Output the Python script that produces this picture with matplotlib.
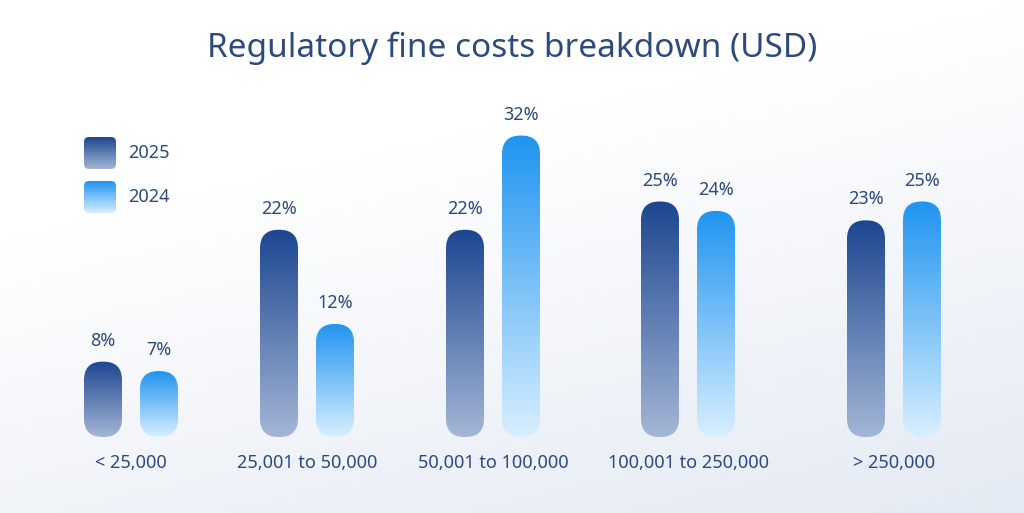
import numpy as np
import matplotlib
matplotlib.use("Agg")
import matplotlib.pyplot as plt
from matplotlib.patches import FancyBboxPatch
from matplotlib.colors import LinearSegmentedColormap

categories = ["< 25,000", "25,001 to 50,000", "50,001 to 100,000", "100,001 to 250,000", "> 250,000"]
v2025 = [8, 22, 22, 25, 23]
v2024 = [7, 12, 32, 24, 25]
series = ["2025", "2024"]

W, H = 1024, 513
fig = plt.figure(figsize=(W/100, H/100), dpi=100)
ax = fig.add_axes([0, 0, 1, 1])
ax.set_xlim(0, W); ax.set_ylim(H, 0); ax.axis("off")

# background gradient
yy, xx = np.mgrid[0:1:100j, 0:1:200j]
t = np.clip(0.75*yy + 0.35*xx - 0.35, 0, 1)
c0 = np.array([1, 1, 1]); c1 = np.array([0.86, 0.89, 0.94])
bg = c0[None, None, :]*(1-t[..., None]) + c1[None, None, :]*t[..., None]
ax.imshow(bg, extent=[0, W, H, 0], aspect="auto", zorder=0)

cm25 = LinearSegmentedColormap.from_list("a", ["#1c4690", "#a4b6d6"])
cm24 = LinearSegmentedColormap.from_list("b", ["#1f94f0", "#d8efff"])
grad = np.linspace(0, 1, 256)[:, None]

def pill(x0, y0, w, h, cmap, r):
    p = FancyBboxPatch((x0 + r, y0 + r), w - 2*r, h - 2*r,
                       boxstyle=f"round,pad={r},rounding_size={r}",
                       linewidth=0, facecolor="none", zorder=2)
    ax.add_patch(p)
    im = ax.imshow(grad, extent=[x0, x0 + w, y0 + h, y0], cmap=cmap,
                   aspect="auto", zorder=2)
    im.set_clip_path(p)

centers = [131, 307, 493, 688, 894]
base, scale, bw, off = 437, 9.42, 38, 28
txt = "#2c4a7e"
for c, a, b, cat in zip(centers, v2025, v2024, categories):
    for v, cmap, dx in [(a, cm25, -off), (b, cm24, off)]:
        h = v * scale
        pill(c + dx - bw/2, base - h, bw, h, cmap, bw/2 - 0.5)
        ax.text(c + dx, base - h - 21, f"{v}%", ha="center", va="center",
                fontsize=13, color=txt, fontweight="bold", family="Noto Sans")
    ax.text(c, 463, cat, ha="center", va="center", fontsize=13, color=txt, family="Noto Sans")

for i, (s, cmap) in enumerate(zip(series, [cm25, cm24])):
    y0 = 137 + i*44
    pill(84, y0, 32, 32, cmap, 5)
    ax.text(128, y0 + 16, s, ha="left", va="center", fontsize=13, color=txt, family="Noto Sans")

ax.text(512, 48, "Regulatory fine costs breakdown (USD)", ha="center", va="center",
        fontsize=24, color=txt, family="Noto Sans")
fig.savefig("out.png", dpi=100)
